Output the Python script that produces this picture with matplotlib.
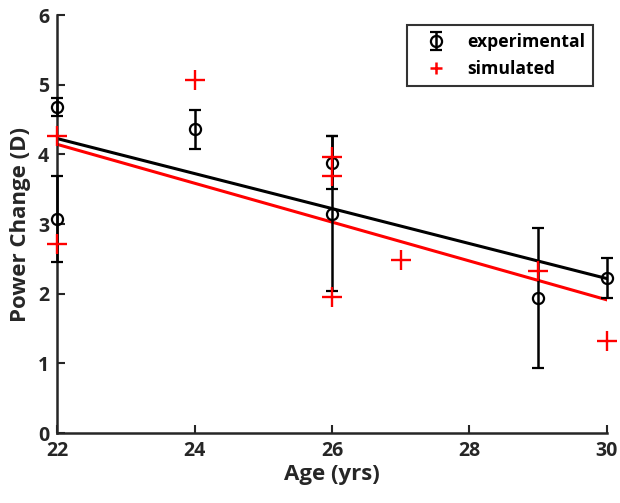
import matplotlib.pyplot as plt
from matplotlib.lines import Line2D
import numpy as np

# experimental measurements (mean +/- error)
exp_age = [22, 22, 24, 26, 26, 29, 30]
exp_power = [4.68, 3.07, 4.36, 3.88, 3.15, 1.94, 2.23]
exp_err = [0.13, 0.62, 0.28, 0.38, 1.11, 1.0, 0.29]

# simulated values
sim_age = [22, 22, 24, 26, 26, 26, 27, 29, 30]
sim_power = [4.27, 2.72, 5.07, 3.97, 3.69, 1.95, 2.49, 2.33, 1.32]

plt.rcParams['font.family'] = ['Open Sans', 'DejaVu Sans']
plt.rcParams['font.weight'] = 'bold'

fig = plt.figure(figsize=(6.2, 5.03), dpi=100)
ax = fig.add_axes([0.0927, 0.139, 0.886, 0.831])

# linear fits
xs = np.array([22, 30])
pe = np.polyfit(exp_age, exp_power, 1)
ps = np.polyfit(sim_age, sim_power, 1)
ax.plot(xs, np.polyval(pe, xs), color='black', lw=2.2, zorder=2)
ax.plot(xs, np.polyval(ps, xs), color='red', lw=2.2, zorder=2)

eb = ax.errorbar(exp_age, exp_power, yerr=exp_err, fmt='o', mfc='none', mec='black',
                 ms=8, mew=1.6, ecolor='black', elinewidth=1.8, capsize=4, capthick=1.8,
                 zorder=3)
for art in eb.lines[0:1] + tuple(eb.lines[1]) + tuple(eb.lines[2]):
    art.set_clip_on(False)
ax.plot(sim_age, sim_power, '+', color='red', ms=14, mew=1.7, zorder=4, clip_on=False)

ax.set_xlim(22, 30)
ax.set_ylim(0, 6)
ax.set_xticks(range(22, 31, 2))
ax.set_yticks(range(0, 7))
ax.spines['top'].set_visible(False)
ax.spines['right'].set_visible(False)
for s in ['left', 'bottom']:
    ax.spines[s].set_linewidth(1.8)
    ax.spines[s].set_color('#262626')
ax.tick_params(direction='in', length=6, width=1.5, labelsize=14, colors='#262626',
               pad=6)
ax.set_xlabel('Age (yrs)', fontsize=16, fontweight='bold', color='#262626', labelpad=2)
ax.set_ylabel('Power Change (D)', fontsize=16, fontweight='bold', color='#262626',
              labelpad=5)

sim_handle = Line2D([], [], ls='none', marker='+', color='red', ms=8, mew=1.8)
leg = ax.legend([eb, sim_handle], ['experimental', 'simulated'], loc='upper right',
                bbox_to_anchor=(0.975, 0.976), borderaxespad=0, fontsize=12.6,
                fancybox=False, edgecolor='#333333', framealpha=1, handletextpad=0.6,
                borderpad=0.45, labelspacing=0.5, handlelength=2.4)
leg.get_frame().set_linewidth(1.5)

fig.savefig('out.png', dpi=100)
